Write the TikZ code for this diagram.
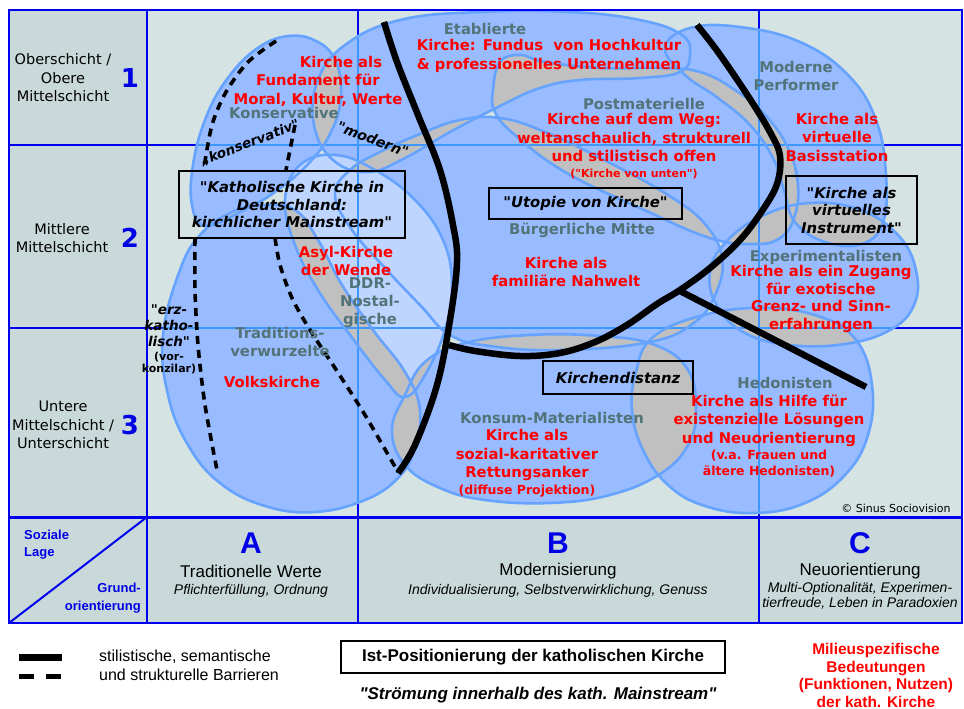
\documentclass[tikz,border=0pt]{standalone}
\usepackage{fontspec}
\setmainfont{DejaVu Sans}[Ligatures=TeXOff]
\newfontfamily\narrowfont{Liberation Sans}[Ligatures=TeXOff]
\usetikzlibrary{positioning}

\definecolor{cellbg}{HTML}{C9D9D9}
\definecolor{chartbg}{HTML}{D6E3E3}
\definecolor{milieufill}{HTML}{99BBFF}
\definecolor{ddrfill}{HTML}{BED5FF}
\definecolor{milieuline}{HTML}{66A3FF}
\definecolor{overlapgray}{HTML}{C0C0C0}
\definecolor{gridblue}{HTML}{0000EE}
\definecolor{gridlight}{HTML}{3D97FF}
\definecolor{milieutext}{HTML}{527479}
\definecolor{sinusred}{HTML}{FF0000}
\definecolor{letterblue}{HTML}{0000E6}

\newcommand\milEtablierte{plot[smooth cycle,tension=0.7] coordinates {(318,80) (345,45) (400,20) (480,12) (570,12) (640,20) (682,35) (690,55) (680,72) (640,78) (580,80) (540,88) (500,106) (450,132) (405,158) (368,172) (333,160) (314,125)}}
\newcommand\milKonservative{plot[smooth cycle,tension=0.7] coordinates {(288,36) (318,42) (336,62) (341,95) (332,130) (310,162) (275,192) (240,212) (205,226) (192,205) (193,165) (205,120) (225,82) (255,50)}}
\newcommand\milPostmaterielle{plot[smooth cycle,tension=0.7] coordinates {(493,90) (500,62) (520,55) (545,62) (600,68) (660,68) (700,72) (735,90) (765,115) (788,148) (798,185) (794,218) (780,238) (755,244) (710,238) (640,208) (565,172) (515,135) (495,112)}}
\newcommand\milModernePerformer{plot[smooth cycle,tension=0.7] coordinates {(665,48) (690,28) (740,27) (800,42) (848,75) (876,120) (886,175) (883,222) (862,244) (825,242) (795,222) (784,190) (773,158) (750,125) (718,98) (685,75)}}
\newcommand\milBuergerlicheMitte{plot[smooth cycle,tension=0.7] coordinates {(335,195) (350,170) (380,152) (420,134) (460,120) (500,118) (545,132) (610,163) (668,195) (705,224) (722,258) (716,293) (695,322) (650,342) (560,350) (490,346) (450,335) (420,305) (385,268) (352,230)}}
\newcommand\milDDR{plot[smooth cycle,tension=0.7] coordinates {(300,165) (335,155) (375,170) (415,200) (443,240) (452,285) (445,330) (425,375) (405,397) (385,380) (350,335) (318,290) (295,245) (285,200)}}
\newcommand\milTraditionsverwurzelte{plot[smooth cycle,tension=0.7] coordinates {(180,270) (200,235) (230,213) (262,205) (295,210) (318,240) (342,285) (373,330) (405,372) (420,410) (414,450) (398,478) (365,500) (315,512) (265,506) (220,483) (188,445) (168,395) (163,335)}}
\newcommand\milKonsum{plot[smooth cycle,tension=0.7] coordinates {(405,395) (425,362) (465,343) (530,335) (600,336) (655,345) (688,370) (696,410) (688,445) (660,474) (610,495) (550,503) (485,500) (440,488) (405,465) (392,430)}}
\newcommand\milHedonisten{plot[smooth cycle,tension=0.7] coordinates {(636,372) (652,338) (700,316) (760,308) (818,316) (856,340) (872,385) (868,435) (845,475) (805,503) (755,513) (705,506) (668,485) (643,450) (632,410)}}
\newcommand\milExperimentalisten{plot[smooth cycle,tension=0.7] coordinates {(710,272) (726,242) (762,216) (810,203) (860,210) (898,235) (916,270) (914,305) (890,330) (845,344) (790,345) (745,333) (717,306)}}

\newcommand\grayoverlap[2]{\begin{scope}\clip #1;\fill[overlapgray] #2;\end{scope}}

\begin{document}
\begin{tikzpicture}[
    x=1pt, y=-1pt,
    every node/.style={
        inner sep=0pt,
        align=center
    },
    gridline/.style={
        draw=gridblue, line width=2pt
    },
    innergrid/.style={
        draw=gridlight, line width=2pt
    },
    milieuedge/.style={
        draw=milieuline, line width=2.6pt
    },
    barrier/.style={
        line width=6.5pt, line join=round
    },
    softbarrier/.style={
        line width=3.6pt, dash pattern=on 8pt off 6pt
    },
    church/.style={
        text=sinusred,
        font=\fontsize{14.8}{18.5}\selectfont\bfseries
    },
    churchsmall/.style={
        text=sinusred,
        font=\fontsize{12.5}{16}\selectfont\bfseries
    },
    churchtiny/.style={
        text=sinusred,
        font=\fontsize{11}{13}\selectfont\bfseries
    },
    milieuname/.style={
        text=milieutext,
        font=\fontsize{14.8}{18}\selectfont\bfseries
    },
    quotebox/.style={
        draw, line width=2.4pt,
        font=\fontsize{14.8}{17.5}\selectfont\bfseries\itshape
    },
    strata/.style={
        font=\fontsize{14.5}{18.5}\selectfont
    },
    stratanum/.style={
        text=letterblue,
        font=\fontsize{26}{26}\selectfont\bfseries
    },
    abcletter/.style={
        text=letterblue,
        font=\narrowfont\fontsize{30}{30}\selectfont\bfseries
    },
    orienttitle/.style={
        font=\narrowfont\fontsize{17}{17}\selectfont
    },
    orientsub/.style={
        font=\narrowfont\fontsize{14}{15.5}\selectfont\itshape
    },
    lagetext/.style={
        text=letterblue,
        font=\narrowfont\fontsize{13}{17.5}\selectfont\bfseries
    },
    legendtext/.style={
        font=\narrowfont\fontsize{16}{19}\selectfont
    }
]
\useasboundingbox (0,0) rectangle (964,709);
\fill[white] (0,0) rectangle (964,709);
\fill[cellbg] (9,10) rectangle (147,517);
\fill[chartbg] (147,10) rectangle (962,517);
\fill[cellbg] (9,517) rectangle (962,623);
\draw[gridline] (147,10) -- (147,623) (358,10) -- (358,623) (759,10) -- (759,623)
    (9,145) -- (962,145) (9,328) -- (962,328);

\fill[milieufill] \milEtablierte;
\fill[milieufill] \milKonservative;
\fill[milieufill] \milPostmaterielle;
\fill[milieufill] \milModernePerformer;
\fill[milieufill] \milBuergerlicheMitte;
\fill[milieufill] \milTraditionsverwurzelte;
\fill[milieufill] \milKonsum;
\fill[milieufill] \milHedonisten;
\fill[milieufill] \milExperimentalisten;
\fill[ddrfill] \milDDR;

\grayoverlap\milKonservative\milEtablierte
\grayoverlap\milKonservative\milTraditionsverwurzelte
\grayoverlap\milEtablierte\milBuergerlicheMitte
\grayoverlap\milEtablierte\milPostmaterielle
\grayoverlap\milPostmaterielle\milBuergerlicheMitte
\grayoverlap\milPostmaterielle\milModernePerformer
\grayoverlap\milPostmaterielle\milExperimentalisten
\grayoverlap\milModernePerformer\milExperimentalisten
\grayoverlap\milBuergerlicheMitte\milExperimentalisten
\grayoverlap\milBuergerlicheMitte\milKonsum
\grayoverlap\milBuergerlicheMitte\milHedonisten
\grayoverlap\milTraditionsverwurzelte\milDDR
\grayoverlap\milTraditionsverwurzelte\milKonsum
\grayoverlap\milDDR\milKonsum
\grayoverlap\milKonsum\milHedonisten
\grayoverlap\milExperimentalisten\milHedonisten

\foreach \m in {Etablierte,Konservative,Postmaterielle,ModernePerformer,BuergerlicheMitte,DDR,Traditionsverwurzelte,Konsum,Hedonisten,Experimentalisten}{
    \begin{scope}
        \expandafter\clip\csname mil\m\endcsname;
        \draw[innergrid] (147,145) -- (962,145) (147,328) -- (962,328)
            (358,10) -- (358,517) (759,10) -- (759,517);
    \end{scope}
}

\path[milieuedge] \milEtablierte;
\path[milieuedge] \milKonservative;
\path[milieuedge] \milPostmaterielle;
\path[milieuedge] \milModernePerformer;
\path[milieuedge] \milBuergerlicheMitte;
\path[milieuedge] \milDDR;
\path[milieuedge] \milTraditionsverwurzelte;
\path[milieuedge] \milKonsum;
\path[milieuedge] \milHedonisten;
\path[milieuedge] \milExperimentalisten;

\draw[barrier] plot[smooth,tension=0.6] coordinates {(384,22) (397,62) (418,115) (440,170) (453,225) (457,262) (450,320) (437,385) (415,445) (398,473)};
\draw[barrier] plot[smooth,tension=0.6] coordinates {(449,345) (475,351) (520,356) (560,353) (595,342) (627,325) (657,304) (680,290) (710,268) (740,240) (762,211) (777,184) (780,156) (770,132) (748,96) (718,52) (697,25)};
\draw[barrier] (680,291) -- (866,387);

\draw[softbarrier] plot[smooth] coordinates {(276,41) (248,62) (226,92) (212,125) (204,168)};
\draw[softbarrier] plot[smooth] coordinates {(195,238) (195,290) (198,345) (205,405) (217,470)};
\draw[softbarrier] (295,125) -- (286,170);
\draw[softbarrier] plot[smooth] coordinates {(275,238) (280,265) (292,298) (310,330) (335,368) (365,415) (398,472)};

\node[font=\fontsize{13.5}{13.5}\selectfont\bfseries\itshape, rotate=21] (konservativlabel) at (250,143) {„konservativ"};
\node[font=\fontsize{14}{14}\selectfont\bfseries\itshape, rotate=-21] (modernlabel) at (373,139) {"modern"};

\node[strata] (upperstrata) at (63,78) {Oberschicht /\\Obere\\Mittelschicht};
\node[stratanum] (num1) at (130,78) {1};
\node[strata] (middlestrata) at (62,238) {Mittlere\\Mittelschicht};
\node[stratanum] (num2) at (130,238) {2};
\node[strata] (lowerstrata) at (63,425) {Untere\\Mittelschicht /\\Unterschicht};
\node[stratanum] (num3) at (130,425) {3};

\node[milieuname] (etab) at (485,29) {Etablierte};
\node[church] (etabchurch) at (549,56) {Kirche: Fundus\ \ von Hochkultur\\\& professionelles Unternehmen};
\node[church] (konschurch) at (318,81) {\hspace*{46pt}Kirche als\\Fundament für\\Moral, Kultur, Werte};
\node[milieuname] (kons) at (284,113) {Konservative};
\node[milieuname] (modp) at (796,76) {Moderne\\Performer};
\node[church] (modpchurch) at (837,137) {Kirche als\\virtuelle\\Basisstation};
\node[milieuname] (post) at (644,104) {Postmaterielle};
\node[church] (postchurch) at (634,137.5) {Kirche auf dem Weg:\\weltanschaulich, strukturell\\und stilistisch offen};
\node[churchtiny] (postnote) at (634,174) {("Kirche von unten")};
\node[quotebox, minimum width=226pt, minimum height=67pt] (mainstream) at (292,204.5) {"Katholische Kirche in\\Deutschland:\\kirchlicher Mainstream"};
\node[quotebox, minimum width=193pt, minimum height=31pt] (utopie) at (585.5,203.5) {"Utopie von Kirche"};
\node[milieuname] (buerg) at (582,230) {Bürgerliche Mitte};
\node[quotebox, minimum width=131pt, minimum height=68pt] (virtuell) at (851.5,210) {"Kirche als\\virtuelles\\Instrument"};
\node[church] (ddrchurch) at (346,261) {Asyl-Kirche\\der Wende};
\node[milieuname] (ddr) at (370,303) {DDR-\\Nostal-\\gische};
\node[church] (buergchurch) at (566,272) {Kirche als\\familiäre Nahwelt};
\node[milieuname] (expe) at (826,257) {Experimentalisten};
\node[church, font=\fontsize{14.8}{17.7}\selectfont\bfseries] (expechurch) at (821,299) {Kirche als ein Zugang\\für exotische\\Grenz- und Sinn-\\erfahrungen};
\node[font=\fontsize{13.5}{16}\selectfont\bfseries\itshape] (erz) at (169,326) {"erz-\\katho-\\lisch"};
\node[font=\fontsize{11}{12.5}\selectfont\bfseries] (vor) at (169,363) {(vor-\\konzilar)};
\node[milieuname] (trad) at (280,342) {Traditions-\\verwurzelte};
\node[church] (tradchurch) at (272,382) {Volkskirche};
\node[quotebox, minimum width=150pt, minimum height=33pt] (distanz) at (618,377.5) {Kirchendistanz};
\node[milieuname] (hedo) at (785,383) {Hedonisten};
\node[church] (hedochurch) at (769,420.5) {Kirche als Hilfe für\\existenzielle Lösungen\\und Neuorientierung};
\node[churchsmall] (hedonote) at (769,464) {(v.a. Frauen und\\ältere Hedonisten)};
\node[milieuname] (konsum) at (552,418) {Konsum-Materialisten};
\node[church] (konsumchurch) at (527,455) {Kirche als\\sozial-karitativer\\Rettungsanker};
\node[churchsmall] (konsumnote) at (527,491) {(diffuse Projektion)};
\node[font=\fontsize{11}{11}\selectfont] (copyright) at (896,508) {© Sinus Sociovision};

\draw[gridline] (9,10) rectangle (962,623);
\draw[gridline, line width=3pt] (9,517) -- (962,517);
\draw[gridline] (9,623) -- (147,517);

\node[lagetext, anchor=west, align=left] (lage) at (24,544.5) {Soziale\\Lage};
\node[lagetext, anchor=east, align=right] (grund) at (141,598) {Grund-\\orientierung};
\node[abcletter] (lettA) at (251,543) {A};
\node[orienttitle] (titleA) at (251,571) {Traditionelle Werte};
\node[orientsub] (subA) at (251,591) {Pflichterfüllung, Ordnung};
\node[abcletter] (lettB) at (558,543) {B};
\node[orienttitle] (titleB) at (558,571) {Modernisierung};
\node[orientsub] (subB) at (558,591) {Individualisierung, Selbstverwirklichung, Genuss};
\node[abcletter] (lettC) at (860,543) {C};
\node[orienttitle] (titleC) at (860,571) {Neuorientierung};
\node[orientsub] (subC) at (860,596) {Multi-Optionalität, Experimen-\\tierfreude, Leben in Paradoxien};

\coordinate (solidstart) at (19,657);
\coordinate (solidend) at (62,657);
\coordinate (dashstart) at (19,676);
\coordinate (dashend) at (62,676);
\draw[line width=7pt] (solidstart) -- (solidend);
\draw[line width=5pt, dash pattern=on 15pt off 12pt] (dashstart) -- (dashend);
\node[legendtext, anchor=west, align=left] (barrierlegend) at (99,665.5) {stilistische, semantische\\und strukturelle Barrieren};
\node[draw, line width=2.4pt, minimum width=384pt, minimum height=32pt, font=\narrowfont\fontsize{17}{17}\selectfont\bfseries] (istbox) at (533,657) {Ist-Positionierung der katholischen Kirche};
\node[font=\narrowfont\fontsize{17}{17}\selectfont\bfseries\itshape] (stroemung) at (538,695) {"Strömung innerhalb des kath. Mainstream"};
\node[text=sinusred, font=\narrowfont\fontsize{15.5}{17.5}\selectfont\bfseries] (redlegend) at (876,675.5) {Milieuspezifische\\Bedeutungen\\(Funktionen, Nutzen)\\der kath. Kirche};
\end{tikzpicture}
\end{document}
